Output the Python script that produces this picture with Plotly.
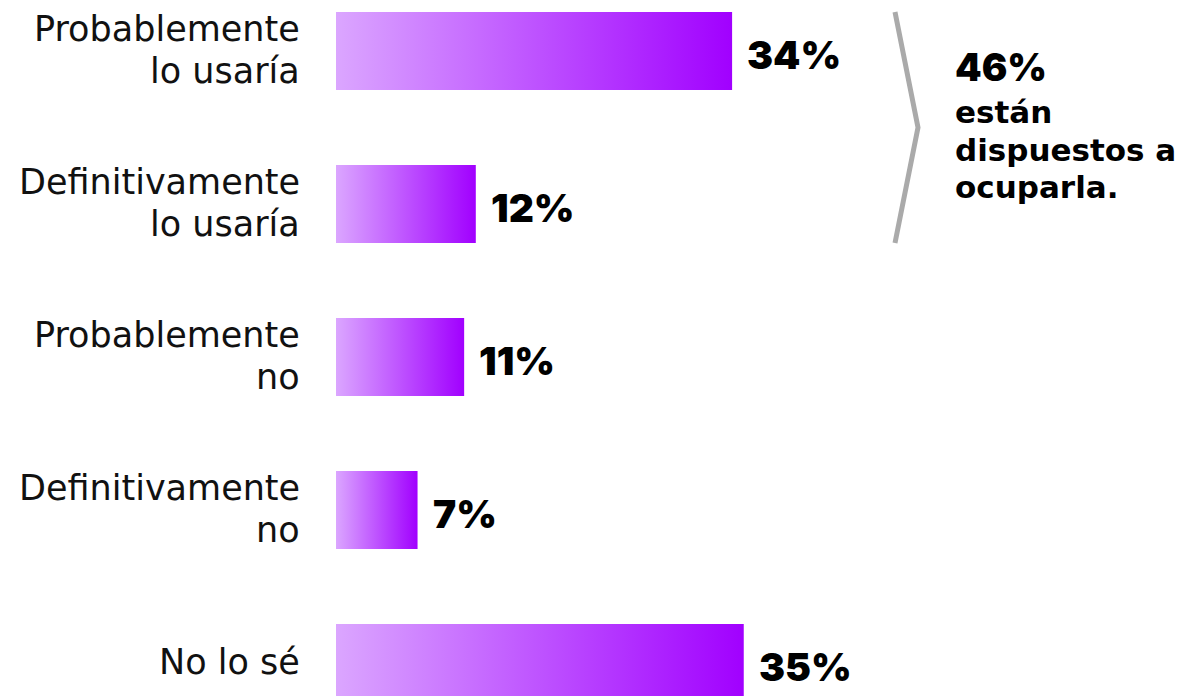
import plotly.graph_objects as go

categories = ["Probablemente<br>lo usaría", "Definitivamente<br>lo usaría",
              "Probablemente<br>no", "Definitivamente<br>no", "No lo sé"]
values = [34, 12, 11, 7, 35]
value_labels = ["34%", "12%", "11%", "7%", "35%"]
summary_value = "46%"
summary_lines = ["están", "dispuestos a", "ocuparla."]

W, H = 1192, 696
X0_PX = 336          # pixel where value 0 sits
PX_PER_UNIT = 11.65  # pixels per percentage point
Y0_PX = 51           # pixel centre of first bar
PX_PER_ROW = 153
BAR_H = 0.51

x_range = [-X0_PX / PX_PER_UNIT, (W - X0_PX) / PX_PER_UNIT]
y_range = [(H - Y0_PX) / PX_PER_ROW, -Y0_PX / PX_PER_ROW]

LABEL_FONT = "DejaVu Sans"
BOLD_FONT = "Inter"


def y_of_px(p):
    return (p - Y0_PX) / PX_PER_ROW


def x_of_px(p):
    return (p - X0_PX) / PX_PER_UNIT


fig = go.Figure()
for i, v in enumerate(values):
    y_top, y_bot = i - BAR_H / 2, i + BAR_H / 2
    fig.add_trace(go.Scatter(
        x=[0, v, v, 0, 0], y=[y_top, y_top, y_bot, y_bot, y_top],
        mode="lines", fill="toself", line=dict(width=0),
        fillgradient=dict(type="horizontal",
                          colorscale=[[0, "#dba6ff"], [1, "#a100ff"]],
                          start=0, stop=v),
        hoverinfo="skip", showlegend=False))

LINE_GAP = 42
for i, (cat, v, lab) in enumerate(zip(categories, values, value_labels)):
    lines = cat.split("<br>")
    n = len(lines)
    for k, ln in enumerate(lines):
        off = (k - (n - 1) / 2) * LINE_GAP
        fig.add_annotation(x=0, y=i, text=ln, showarrow=False, xanchor="right",
                           yanchor="middle", xshift=-34, yshift=-off + 1,
                           font=dict(family=LABEL_FONT, size=35, color="#111"))
    fig.add_annotation(x=v, y=i, text=lab, showarrow=False, xanchor="left",
                       yanchor="middle", xshift=13, yshift=-3,
                       font=dict(family=BOLD_FONT, size=39, color="#000", weight=900))

# bracket grouping first two bars
bx = x_of_px(895)
apex = x_of_px(918)
fig.add_shape(type="path",
              path=f"M {bx} {0 - BAR_H/2} L {apex} {0.5} L {bx} {1 + BAR_H/2}",
              line=dict(color="#aaaaaa", width=5), xref="x", yref="y")

tx = x_of_px(953)
fig.add_annotation(x=tx, y=y_of_px(67), text=summary_value,
                   showarrow=False, xanchor="left", yanchor="middle",
                   font=dict(family=BOLD_FONT, size=38, color="#000", weight=900))
# three-line block: base size sets leading, spans set glyph size
summary_html = "<br>".join(f"<span style='font-size:31px'>{ln}</span>" for ln in summary_lines)
fig.add_annotation(x=tx, y=y_of_px(149), text=summary_html,
                   showarrow=False, xanchor="left", yanchor="middle", align="left",
                   font=dict(family="DejaVu Sans", size=29, color="#000", weight="bold"))

fig.update_layout(
    width=W, height=H, margin=dict(l=0, r=0, t=0, b=0),
    paper_bgcolor="white", plot_bgcolor="white",
    xaxis=dict(range=x_range, visible=False, fixedrange=True),
    yaxis=dict(range=y_range, visible=False, fixedrange=True),
)
fig.write_html("out.html")
